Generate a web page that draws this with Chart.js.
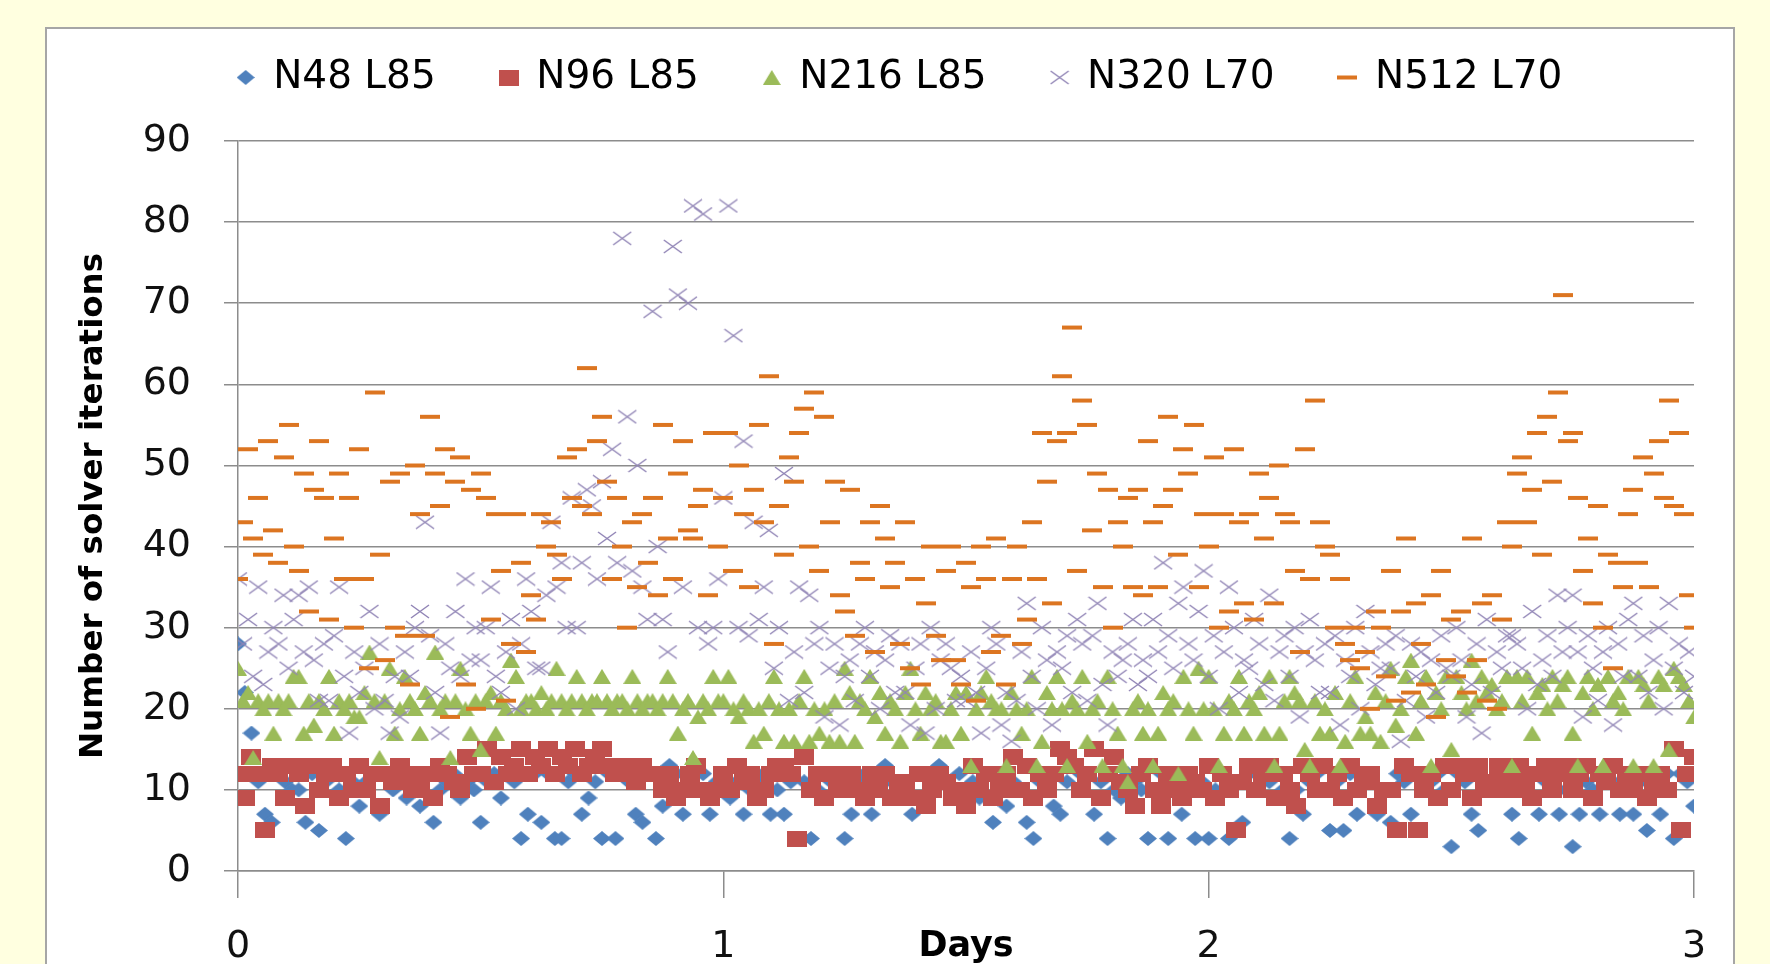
<!DOCTYPE html>
<html><head><meta charset="utf-8">
<script src="https://cdn.jsdelivr.net/npm/chart.js@4.4.1/dist/chart.umd.min.js"></script>
<style>
html,body{margin:0;padding:0;width:1770px;height:964px;overflow:hidden;background:#ffffe0;}
#box{position:absolute;left:45px;top:27px;width:1686px;height:960px;background:#fff;border:2px solid #a6a6a6;border-bottom:none;}
#c{position:absolute;left:47px;top:-7px;}
</style></head><body>
<div id="box"></div>
<canvas id="c" width="1686" height="971"></canvas>
<script>
// ---- data ----
const seriesNames = ['N48 L85', 'N96 L85', 'N216 L85', 'N320 L70', 'N512 L70'];
const daysSpan = 3;
const yTickLabels = ['0','10','20','30','40','50','60','70','80','90'];
const xTickLabels = ['0','1','2','3'];

const n48L85 = [
28,22,17,11,7,6,12,11,10, 10,6,12,5,11,12,10,4,11, 8,11,12,7,12,10,11,9,12, 8,12,6,10,11,12,9,11,10,
6,11,12,9,12,11,4,7,12, 6,12,4,4,11,12,7,9,11, 4,12,4,12,11,7,6,12,4, 8,13,12,7,11,10,12,7,11,
12,9,11,7,10,11,12,7,10, 7,11,4,11,4,10,12,11,10, 4,7,11,12,7,12,13,11,10, 10,7,12,8,12,13,11,10,12,
10,11,9,12,6,12,8,11,10, 6,4,11,12,8,7,11,13,12, 12,7,11,4,10,9,12,11,10, 4,10,12,4,11,7,12,4,11,
4,10,12,4,11,6,12,10,11, 11,12,10,4,10,7,11,12,10, 5,11,5,12,7,11,12,7,10, 6,12,11,7,12,10,11,12,10,
3,12,11,7,5,11,10,12,11, 7,4,10,12,7,11,12,7,10, 3,7,11,10,7,12,11,7,12, 7,11,5,11,7,12,4,12,11, 8];

const n96L85 = [
12,9,14,12,5,13,12,9,13, 12,8,13,10,12,13,9,12,10, 13,10,12,8,12,11,13,12,10, 10,12,9,13,12,11,10,14,12,
12,15,11,14,12,13,15,12,14, 13,15,12,14,13,15,12,13,14, 15,13,12,13,12,11,13,12,12, 10,12,9,10,12,13,10,9,10,
12,10,13,11,12,9,10,12,13, 13,12,4,14,10,12,9,12,10, 11,12,10,9,12,10,12,9,10, 11,9,12,8,10,12,11,9,10,
8,13,10,12,9,10,12,14,10, 13,9,12,10,12,15,14,13,10, 12,15,9,12,14,11,10,8,12, 13,10,8,12,10,9,12,11,10,
13,9,12,10,5,11,13,10,12, 13,9,12,10,8,13,12,10,13, 10,12,9,13,10,11,12,8,10, 10,5,13,12,5,10,12,9,13,
10,13,12,9,13,11,10,13,12, 10,13,11,9,12,13,10,12,13, 10,12,13,9,12,11,13,10,12, 10,12,9,11,12,10,15,5,12, 14];

const n216L85 = [
25,21,22,14,21,20,21,17,21,20,21,24, 24,17,21,18,21,20,24,17,21,20,21,19,
19,22,27,21,14,21,25,17,20,24,21,20, 17,22,21,27,20,21,14,21,25,20,17,21,
15,21,22,17,21,20,26,24,20,21,21,20, 22,20,21,25,21,20,21,24,21,20,21,21,
24,21,20,21,21,20,24,21,20,21,21,20, 21,24,21,17,20,21,14,19,21,20,24,21,
21,24,20,19,21,20,16,20,17,21,24,20, 16,20,16,21,24,16,20,17,20,16,21,16,
25,22,16,21,20,24,19,22,17,21,20,16, 22,25,20,17,22,20,21,16,16,20,22,17,
22,13,20,22,24,21,20,20,13,22,20,17, 20,24,13,16,22,20,24,20,13,21,20,24,
16,20,21,13,24,20,17,13,11,20,21,17, 20,13,17,22,20,21,12,24,20,17,25,20,
24,20,13,17,21,20,24,17,21,20,22,17, 24,13,17,21,24,22,21,15,13,21,17,20,
17,22,13,16,21,24,17,19,17,22,16,21, 25,18,20,24,26,17,21,24,13,22,20,24,
15,24,22,20,26,21,24,22,23,20,21,24, 13,24,21,24,17,22,23,20,24,21,23,24,
17,13,22,24,20,23,13,24,21,22,20,24, 13,24,23,21,13,24,23,15,25,24,23,21, 19];

const n320L70 = [
36,28,31,24,35,23,27,30,28,34,25,31, 34,27,35,26,21,28,21,29,35,24,17,27,
22,25,32,20,28,21,17,24,19,27,24,30, 32,43,29,22,17,28,25,32,24,36,26,30,
26,30,35,24,22,27,31,20,28,36,32,25, 25,34,43,35,38,30,46,30,38,47,45,36,
48,41,52,38,78,56,37,50,35,31,69,40, 31,27,77,71,35,70,82,30,81,28,30,36,
46,82,66,30,53,29,43,31,35,42,25,30, 49,21,27,35,22,34,28,30,19,25,28,18,
24,26,21,28,30,24,27,20,26,29,22,28, 22,18,25,28,17,30,20,26,28,25,21,24,
21,27,22,17,25,30,28,18,22,16,21,27, 33,24,20,30,26,18,27,25,29,22,31,28,
21,29,33,23,18,27,24,26,28,31,23,26, 24,31,27,38,29,25,33,35,28,26,32,37,
24,29,20,27,35,30,22,26,25,31,28,23, 34,21,27,29,24,30,19,27,31,26,22,28,
22,29,18,26,24,30,20,32,27,23,25,28, 25,29,16,21,28,24,27,19,26,22,29,25,
24,30,26,19,23,28,17,31,22,27,25,29, 29,28,25,20,32,23,26,29,24,34,27,30,
34,27,19,29,25,21,27,30,18,28,24,31, 33,24,29,22,26,30,20,33,25,28,22,27, 24];

const n512L70 = [
36,43,52,41,46,39,53,42,38,51,55,40, 37,49,32,47,53,46,31,41,49,36,46,30,
52,36,25,59,39,26,48,30,49,29,23,50, 44,29,56,49,45,52,19,48,51,23,47,20,
49,46,31,44,37,21,28,44,38,27,34,31, 44,40,43,39,36,51,46,52,45,62,44,53,
56,48,36,46,40,30,43,35,44,38,46,34, 55,41,36,49,53,42,41,45,47,34,54,40,
46,54,37,50,44,35,47,55,43,61,28,45, 39,51,48,54,57,40,59,37,56,43,48,34,
32,47,29,38,36,43,27,45,41,35,38,28, 43,25,36,23,33,40,29,26,37,40,26,23,
38,35,21,40,36,27,41,29,23,36,40,28, 31,43,36,54,48,33,53,61,54,67,37,58,
55,42,49,35,47,30,43,40,46,35,47,34, 53,43,35,45,56,47,39,52,49,55,35,44,
40,51,30,44,32,52,43,33,44,31,49,41, 46,33,50,44,43,37,27,52,36,58,43,40,
39,30,36,28,26,30,25,27,20,32,30,24, 37,21,32,41,22,33,28,23,34,19,37,26,
31,24,32,22,41,26,33,21,34,20,31,43, 40,49,51,43,47,54,39,56,48,59,71,53,
54,46,37,41,33,45,30,39,25,38,35,44, 47,38,51,35,49,53,46,58,45,54,44,34, 30];

// ---- marker images ----
function marker(w, h, draw) {
  const c = document.createElement('canvas');
  c.width = w; c.height = h;
  draw(c.getContext('2d'), w, h);
  return c;
}
const diamond = marker(18, 15, (g, w, h) => { g.fillStyle = '#4f81bd'; g.beginPath(); g.moveTo(w/2, 0); g.lineTo(w, h/2); g.lineTo(w/2, h); g.lineTo(0, h/2); g.closePath(); g.fill(); });
const square = marker(20, 16, (g, w, h) => { g.fillStyle = '#c0504d'; g.fillRect(0, 0, w, h); });
const triangle = marker(18, 15, (g, w, h) => { g.fillStyle = '#9bbb59'; g.beginPath(); g.moveTo(w/2, 0); g.lineTo(w, h); g.lineTo(0, h); g.closePath(); g.fill(); });
const cross = marker(20, 15, (g, w, h) => { g.strokeStyle = '#9185b6'; g.lineWidth = 1.5; g.beginPath(); g.moveTo(1, 1); g.lineTo(w-1, h-1); g.moveTo(w-1, 1); g.lineTo(1, h-1); g.stroke(); });
const dash = marker(20, 6, (g, w, h) => { g.fillStyle = '#dc7521'; g.fillRect(0, 1, w, 4); });

const toPoints = arr => arr.map((v, i) => ({x: daysSpan * i / (arr.length - 1), y: v}));

const FONT = "'DejaVu Sans', 'Open Sans', sans-serif";
Chart.defaults.font.family = FONT;
Chart.defaults.color = '#000';

const legendSpacer = {
  id: 'legendSpacer',
  beforeInit(chart) {
    if (!chart.legend) return;
    const fit = chart.legend.fit;
    chart.legend.fit = function () { fit.call(this); this.height += 34; };
  }
};

const styles = [diamond, square, triangle, cross, dash];
const allSeries = [n48L85, n96L85, n216L85, n320L70, n512L70];

new Chart(document.getElementById('c'), {
  type: 'scatter',
  data: {
    datasets: allSeries.map((arr, k) => ({
      label: seriesNames[k],
      data: toPoints(arr),
      pointStyle: styles[k],
      pointRadius: 8,
      order: 5 - k,
      showLine: false
    }))
  },
  options: {
    responsive: false,
    animation: false,
    devicePixelRatio: 1,
    layout: { padding: { left: 59, right: 39, top: 0, bottom: 0 } },
    plugins: {
      tooltip: { enabled: false },
      legend: {
        position: 'top',
        labels: {
          usePointStyle: true,
          boxWidth: 16,
          padding: 65,
          font: { size: 39 },
          color: '#000',
          sort: (a, b) => a.datasetIndex - b.datasetIndex
        }
      }
    },
    scales: {
      x: {
        type: 'linear', min: 0, max: 3,
        afterBuildTicks: s => { s.ticks = xTickLabels.map(t => ({value: Number(t)})); },
        ticks: { font: { size: 38 }, color: '#111', padding: 26, callback: v => xTickLabels[v] },
        grid: { drawOnChartArea: false, drawTicks: true, tickLength: 27, color: '#8c8c8c', lineWidth: 1.5 },
        border: { color: '#8c8c8c', width: 1.5 },
        title: { display: true, text: 'Days', font: { size: 35, weight: 'bold' }, color: '#000', padding: { top: 0, bottom: -4 } },
        afterFit: s => { s.height = 93; }
      },
      y: {
        min: 0, max: 90,
        afterBuildTicks: s => { s.ticks = yTickLabels.map(t => ({value: Number(t)})); },
        ticks: { font: { size: 38 }, color: '#111', padding: 33, callback: v => String(v) },
        grid: { color: '#8c8c8c', lineWidth: 1.5, drawTicks: true, tickLength: 14 },
        border: { color: '#8c8c8c', width: 1.5 },
        title: { display: true, text: 'Number of solver iterations', font: { size: 32.5, weight: 'bold' }, color: '#000', padding: { top: -32, bottom: 0 } },
        afterFit: s => { s.width = 132; }
      }
    }
  },
  plugins: [legendSpacer]
});
</script></body></html>
